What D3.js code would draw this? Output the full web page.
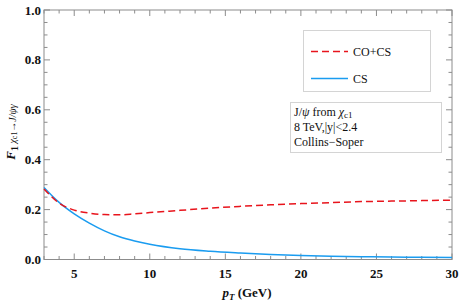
<!DOCTYPE html>
<html lang="en">
<head>
    <meta charset="UTF-8">
    <title>chi_c1 polarization</title>
    <script src="https://d3js.org/d3.v7.min.js"></script>
    <style>
        body { margin: 0; background: #fff; }
        svg { display: block; }
        text { font-family: "Liberation Serif", "DejaVu Serif", serif; fill: #111; }
        .tick-label { font-size: 13px; font-weight: bold; }
    </style>
</head>
<body>
<svg width="464" height="304"></svg>
<script>
    // pT grid (GeV)
    var ptValues = [3, 4, 5, 6, 7, 8, 9, 10, 12, 14, 16, 18, 20, 22, 24, 26, 28, 30];
    // CO+CS (red dashed)
    var coCsValues = [0.283, 0.226, 0.198, 0.186, 0.180, 0.179, 0.183, 0.188, 0.197, 0.206, 0.213, 0.219, 0.224, 0.228, 0.232, 0.234, 0.236, 0.238];
    // CS only (blue solid)
    var csValues = [0.289, 0.229, 0.183, 0.146, 0.115, 0.091, 0.074, 0.061, 0.043, 0.033, 0.026, 0.020, 0.016, 0.013, 0.011, 0.010, 0.009, 0.008];

    var xTicks = [5, 10, 15, 20, 25, 30];
    var yTicks = [0.0, 0.2, 0.4, 0.6, 0.8, 1.0];
    var legendLabels = ['CO+CS', 'CS'];
    var infoLines = ['8 TeV,|y|<2.4', 'Collins\u2212Soper'];

    var svg = d3.select('svg');
    var plotL = 44, plotR = 452, plotT = 10, plotB = 259.5;

    var x = d3.scaleLinear().domain([3, 30]).range([plotL, plotR]);
    var y = d3.scaleLinear().domain([0, 1]).range([plotB, plotT]);

    var frameColor = '#8c8c8c';

    // ticks, drawn inward on all four sides
    var g = svg.append('g');
    var xMinor = d3.range(3, 31, 1);
    var yMinor = d3.range(0, 1.001, 0.05);

    function isMajorX(v) { return v % 5 === 0; }
    function isMajorY(v) { return Math.abs(v * 5 - Math.round(v * 5)) < 1e-6; }

    g.selectAll('.xt-b').data(xMinor).enter().append('line')
        .attr('x1', function (d) { return x(d); })
        .attr('x2', function (d) { return x(d); })
        .attr('y1', plotB)
        .attr('y2', function (d) { return plotB - (isMajorX(d) ? 6 : 3.5); });
    g.selectAll('.xt-t').data(xMinor).enter().append('line')
        .attr('x1', function (d) { return x(d); })
        .attr('x2', function (d) { return x(d); })
        .attr('y1', plotT)
        .attr('y2', function (d) { return plotT + (isMajorX(d) ? 6 : 3.5); });
    g.selectAll('.yt-l').data(yMinor).enter().append('line')
        .attr('y1', function (d) { return y(d); })
        .attr('y2', function (d) { return y(d); })
        .attr('x1', plotL)
        .attr('x2', function (d) { return plotL + (isMajorY(d) ? 6 : 3.5); });
    g.selectAll('.yt-r').data(yMinor).enter().append('line')
        .attr('y1', function (d) { return y(d); })
        .attr('y2', function (d) { return y(d); })
        .attr('x1', plotR)
        .attr('x2', function (d) { return plotR - (isMajorY(d) ? 6 : 3.5); });
    g.selectAll('line').attr('stroke', frameColor).attr('stroke-width', 1);

    svg.append('rect')
        .attr('x', plotL).attr('y', plotT)
        .attr('width', plotR - plotL).attr('height', plotB - plotT)
        .attr('fill', 'none')
        .attr('stroke', frameColor)
        .attr('stroke-width', 1);

    // tick labels
    svg.selectAll('.xl').data(xTicks).enter().append('text')
        .attr('class', 'tick-label')
        .attr('x', function (d) { return x(d); })
        .attr('y', 278)
        .attr('text-anchor', 'middle')
        .text(function (d) { return d; });
    svg.selectAll('.yl').data(yTicks).enter().append('text')
        .attr('class', 'tick-label')
        .attr('x', 41)
        .attr('y', function (d) { return y(d) + 4.5; })
        .attr('text-anchor', 'end')
        .text(function (d) { return d.toFixed(1); });

    // axis titles
    var xt = svg.append('text')
        .attr('x', 247).attr('y', 297)
        .attr('text-anchor', 'middle')
        .style('font-size', '13px').style('font-weight', 'bold');
    xt.append('tspan').style('font-style', 'italic').text('p');
    xt.append('tspan').style('font-style', 'italic').style('font-size', '9px').attr('dy', 3).text('T');
    xt.append('tspan').attr('dy', -3).text(' (GeV)');

    var yt = svg.append('text')
        .attr('transform', 'translate(15,132) rotate(-90)')
        .attr('text-anchor', 'middle')
        .style('font-size', '13px').style('font-weight', 'bold');
    yt.append('tspan').style('font-style', 'italic').text('F');
    yt.append('tspan').attr('dy', 3).style('font-size', '10px').text('1');
    yt.append('tspan').attr('dy', -2).style('font-size', '10px').style('font-weight', 'normal')
        .style('font-style', 'italic').text(' \u03c7');
    yt.append('tspan').attr('dy', 1).style('font-size', '8px').style('font-weight', 'normal').text('c1');
    yt.append('tspan').attr('dy', -1).style('font-size', '10px').style('font-weight', 'normal')
        .style('font-style', 'italic').text('\u2192J/\u03c8\u03b3');

    // curves
    var line = d3.line()
        .curve(d3.curveMonotoneX)
        .x(function (d) { return x(d.pt); })
        .y(function (d) { return y(d.v); });

    var coCsData = ptValues.map(function (p, i) { return {pt: p, v: coCsValues[i]}; });
    var csData = ptValues.map(function (p, i) { return {pt: p, v: csValues[i]}; });

    svg.append('path').datum(csData)
        .attr('d', line)
        .attr('fill', 'none')
        .attr('stroke', '#1a9cf0')
        .attr('stroke-width', 1.5);
    svg.append('path').datum(coCsData)
        .attr('d', line)
        .attr('fill', 'none')
        .attr('stroke', '#e8141c')
        .attr('stroke-width', 1.5)
        .attr('stroke-dasharray', '7,4');

    // legend
    svg.append('rect')
        .attr('x', 303.5).attr('y', 30.5).attr('width', 127).attr('height', 61)
        .attr('fill', '#fff').attr('stroke', '#d4d4d4');
    var legendStyles = [
        {color: '#e8141c', dash: '7,4', y: 51.5},
        {color: '#1a9cf0', dash: null, y: 78.5}
    ];
    legendStyles.forEach(function (s, i) {
        svg.append('line')
            .attr('x1', 311).attr('x2', 348)
            .attr('y1', s.y).attr('y2', s.y)
            .attr('stroke', s.color).attr('stroke-width', 1.5)
            .attr('stroke-dasharray', s.dash);
        svg.append('text')
            .attr('x', 353).attr('y', s.y + 4.5)
            .style('font-size', '12px')
            .text(legendLabels[i]);
    });

    // info box
    svg.append('rect')
        .attr('x', 290.5).attr('y', 102.5).attr('width', 151).attr('height', 50)
        .attr('fill', '#fff').attr('stroke', '#d4d4d4');
    var t0 = svg.append('text').attr('x', 294).attr('y', 116).style('font-size', '12px');
    t0.append('tspan').text('J/');
    t0.append('tspan').style('font-style', 'italic').text('\u03c8');
    t0.append('tspan').text(' from ');
    t0.append('tspan').style('font-style', 'italic').text('\u03c7');
    t0.append('tspan').attr('dy', 2).style('font-size', '9px').text('c1');
    infoLines.forEach(function (s, i) {
        svg.append('text')
            .attr('x', 294).attr('y', 131 + i * 15)
            .style('font-size', '12px')
            .text(s);
    });
</script>
</body>
</html>
